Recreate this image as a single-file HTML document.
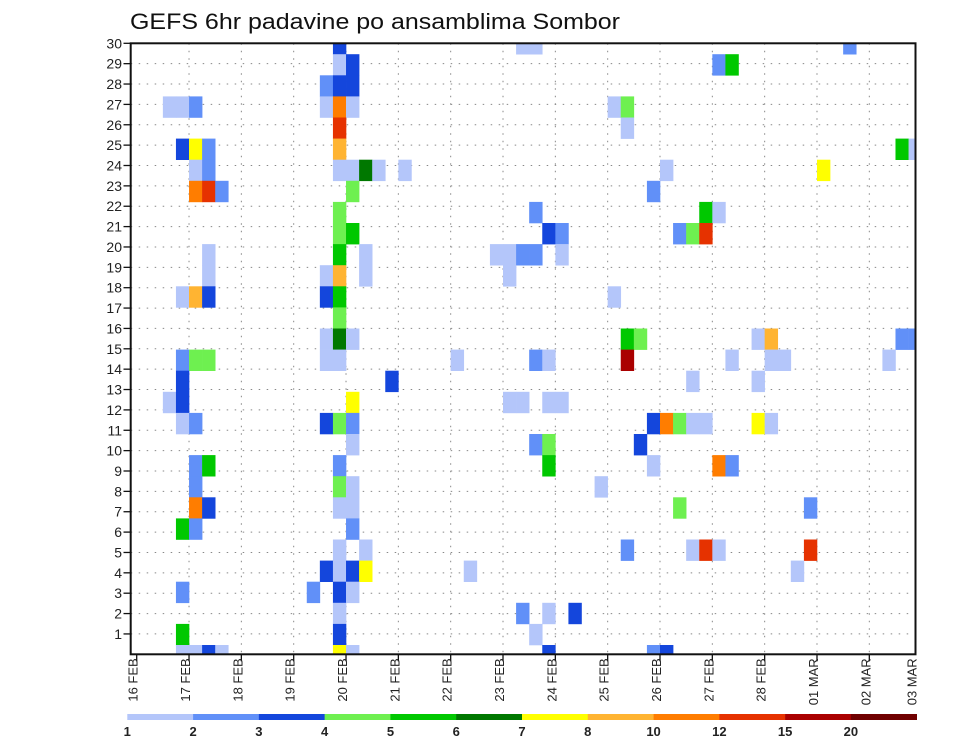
<!DOCTYPE html>
<html><head><meta charset="utf-8"><style>
html,body{margin:0;padding:0;background:#fff;}
svg{display:block;font-family:"Liberation Sans",sans-serif;}
</style></head><body>
<svg id="chart" width="960" height="742" viewBox="0 0 960 742" xmlns="http://www.w3.org/2000/svg">
<text x="130" y="29" font-size="22" textLength="490" lengthAdjust="spacingAndGlyphs" fill="#111">GEFS 6hr padavine po ansamblima Sombor</text>
<g id="grid"></g>
<g id="cells"></g>
<rect x="130.7" y="43.3" width="784.8" height="611" fill="none" stroke="#111" stroke-width="2"/>
<g id="yaxis"></g>
<g id="xaxis"></g>
<g id="legend"></g>
</svg>
<script>
// column = 6-hour step index since 16 FEB 00z, row = ensemble member row, level = colour class
const cellCols = [15,29,30,54, 15,16,44,45, 14,15,16, 2,3,4,14,15,16,36,37, 15,37, 3,4,5,15,58,59, 4,5,15,16,17,18,20,40,52, 4,5,6,16,39, 15,30,43,44, 15,16,31,32,41,42,43, 5,15,17,27,28,29,30,32, 5,14,15,17,28, 3,4,5,14,15,36, 15, 14,15,16,37,38,47,48,58,59, 3,4,5,14,15,24,30,31,37,45,48,49,57, 3,19,42,47, 2,3,16,28,29,31,32, 3,4,14,15,16,39,40,41,42,43,47,48, 16,30,31,38, 4,5,15,31,39,44,45, 4,15,16,35, 4,5,15,16,41,51, 3,4,16, 15,17,37,42,43,44,51, 14,15,16,17,25,50, 3,13,15,16, 15,29,31,33, 3,15,30, 3,4,5,6,15,16,31,39,40];
const cellRows = [29,29,29,29, 28,28,28,28, 27,27,27, 26,26,26,26,26,26,26,26, 25,25, 24,24,24,24,24,24, 23,23,23,23,23,23,23,23,23, 22,22,22,22,22, 21,21,21,21, 20,20,20,20,20,20,20, 19,19,19,19,19,19,19,19, 18,18,18,18,18, 17,17,17,17,17,17, 16, 15,15,15,15,15,15,15,15,15, 14,14,14,14,14,14,14,14,14,14,14,14,14, 13,13,13,13, 12,12,12,12,12,12,12, 11,11,11,11,11,11,11,11,11,11,11,11, 10,10,10,10, 9,9,9,9,9,9,9, 8,8,8,8, 7,7,7,7,7,7, 6,6,6, 5,5,5,5,5,5,5, 4,4,4,4,4,4, 3,3,3,3, 2,2,2,2, 1,1,1, 0,0,0,0,0,0,0,0,0];
const cellLevels = [3,1,1,2, 1,3,2,5, 2,3,3, 1,1,2,1,9,1,1,4, 10,1, 3,7,2,8,5,1, 1,2,1,1,6,1,1,1,7, 9,10,2,4,2, 4,2,5,1, 4,5,3,2,2,4,10, 1,5,1,1,1,2,2,1, 1,1,8,1,1, 1,8,3,3,5,1, 4, 1,6,1,5,4,1,8,2,2, 2,4,4,1,1,1,2,1,11,1,1,1,1, 3,3,1,1, 1,3,7,1,1,1,1, 1,2,3,4,2,3,9,4,1,1,7,1, 1,2,4,3, 2,5,2,5,1,9,2, 2,4,1,1, 9,3,1,1,4,2, 5,2,2, 1,1,2,1,10,1,10, 3,1,3,7,1,1, 2,2,3,1, 1,2,1,3, 5,3,1, 1,1,3,1,7,1,3,2,3];
const palette = ["#b4c6fa","#6190f8","#1446dc","#6ef050","#00c800","#007800","#ffff00","#ffb432","#ff7d00","#e63200","#aa0000","#700000"];
const legendLabels = ["1","2","3","4","5","6","7","8","10","12","15","20"];
const dayLabels = ["16 FEB","17 FEB","18 FEB","19 FEB","20 FEB","21 FEB","22 FEB","23 FEB","24 FEB","25 FEB","26 FEB","27 FEB","28 FEB","01 MAR","02 MAR","03 MAR"];
const yTicks = [1,2,3,4,5,6,7,8,9,10,11,12,13,14,15,16,17,18,19,20,21,22,23,24,25,26,27,28,29,30];

const NS = "http://www.w3.org/2000/svg";
const PL = 130.7, PR = 915.5, PT = 43.3, PB = 654.3;
const X0 = 136.7, DAY = 52.33, STEP = DAY/4;
const CELL_H = 21.1, CELL_BASE = 645;
function xStep(i){ return X0 + i*STEP; }
function xDay(d){ return X0 + d*DAY; }
function yVal(v){ return PB - v*(PB-PT)/30; }
function yCellTop(r){ return CELL_BASE - r*CELL_H; }
function mk(tag, attrs, parent){ const e=document.createElementNS(NS,tag); for(const k in attrs) e.setAttribute(k,attrs[k]); parent.appendChild(e); return e; }

const grid = document.getElementById('grid');
for (let v=1; v<30; v++){
  const l = mk('line',{x1:PL,x2:PR,y1:yVal(v),y2:yVal(v),stroke:'#888','stroke-width':1,'stroke-dasharray':'1.5 6.5'},grid);
  
  
}
for (let d=1; d<15; d++){
  const l = mk('line',{x1:xDay(d),x2:xDay(d),y1:PT,y2:PB,stroke:'#888','stroke-width':1,'stroke-dasharray':'1.5 6'},grid);
  
  
}

const cells = document.getElementById('cells');
for (let n=0; n<cellCols.length; n++){
  let x = xStep(cellCols[n]), w = STEP;
  let y = yCellTop(cellRows[n]), h = CELL_H;
  if (x < PL){ w -= PL-x; x = PL; }
  if (x+w > PR) w = PR-x;
  if (y < PT){ h -= PT-y; y = PT; }
  if (y+h > PB) h = PB-y;
  if (w<=0||h<=0) continue;
  const r = mk('rect',{x:x,y:y,width:w+0.3,height:h+0.3,fill:palette[cellLevels[n]-1]},cells);
  
  
}

const ya = document.getElementById('yaxis');
yTicks.forEach(v=>{
  const t = mk('line',{x1:123.5,x2:PL,y1:yVal(v),y2:yVal(v),stroke:'#111','stroke-width':1.3},ya);
  
  
  const tx = mk('text',{x:122,y:yVal(v)+5,'text-anchor':'end','font-size':14,fill:'#222'},ya);
  tx.textContent = v;
  
  
});

const xa = document.getElementById('xaxis');
dayLabels.forEach((lab,d)=>{
  const x = xDay(d);
  if (x <= PR+1){
    const t = mk('line',{x1:x,x2:x,y1:PB,y2:PB+7,stroke:'#111','stroke-width':1.3},xa);
    
    
  }
  const tx = mk('text',{x:0,y:0,'text-anchor':'end','font-size':13,fill:'#222',transform:'translate('+(x+ (d===15? -5 : 1))+','+(PB+4)+') rotate(-90)'},xa);
  tx.textContent = lab;
  
  
});

const lg = document.getElementById('legend');
const LX = 127.3, LW = (916.7-127.3)/12;
palette.forEach((c,i)=>{
  const r = mk('rect',{x:LX+i*LW,y:714,width:LW+0.3,height:6,fill:c},lg);
  
  
});
legendLabels.forEach((lab,i)=>{
  const t = mk('text',{x:LX+i*LW,y:736,'text-anchor':'middle','font-size':13,'font-weight':'bold',fill:'#222'},lg);
  t.textContent = lab;
  
  
});
</script>
</body></html>
